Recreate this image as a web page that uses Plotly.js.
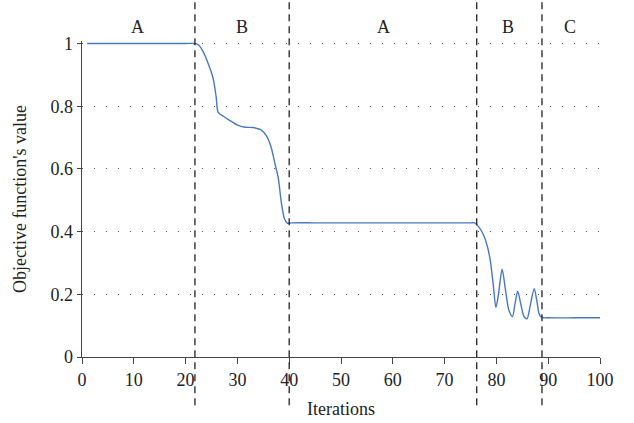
<!DOCTYPE html>
<html><head><meta charset="utf-8">
<script src="https://cdn.plot.ly/plotly-3.0.1.min.js"></script>
<style>html,body{margin:0;padding:0;background:#fff}#c{width:634px;height:423px}</style>
</head><body><div id="c"></div>
<script>
const iterX = [1, 5, 10, 15, 20, 21.8, 22.5, 23.5, 24.5, 25.3, 25.9, 26.3, 27.3, 28.5, 30, 31.5, 33, 34.5, 35.6, 36.5, 37.2, 37.9, 38.5, 39.1, 39.6, 40.5, 45, 50, 60, 70, 75, 75.8, 76.6, 77.5, 78.3, 78.8, 79.4, 79.9, 80.4, 81.1, 81.7, 82.4, 83.1, 83.6, 84.1, 84.7, 85.3, 85.9, 86.6, 87.3, 87.8, 88.3, 88.8, 90, 95, 100];
const objY = [1.0, 1.0, 1.0, 1.0, 1.0, 1.0, 0.995, 0.97, 0.93, 0.89, 0.83, 0.78, 0.768, 0.755, 0.74, 0.733, 0.732, 0.725, 0.705, 0.67, 0.62, 0.57, 0.49, 0.44, 0.427, 0.428, 0.428, 0.428, 0.428, 0.428, 0.428, 0.428, 0.415, 0.39, 0.35, 0.31, 0.23, 0.158, 0.2, 0.28, 0.22, 0.15, 0.129, 0.17, 0.21, 0.17, 0.13, 0.122, 0.17, 0.218, 0.18, 0.135, 0.126, 0.125, 0.125, 0.125];
const phaseBounds = [21.8, 40, 76.2, 88.8];
const phaseLabels = ['A', 'B', 'A', 'B', 'C'];
const phaseLabelX = [10.8, 30.9, 58.3, 82.3, 94.3];
const xTicks = [0, 10, 20, 30, 40, 50, 60, 70, 80, 90, 100];
const yTicks = [0, 0.2, 0.4, 0.6, 0.8, 1];
const yTickText = ['0', '0.2', '0.4', '0.6', '0.8', '1'];

const fontFam = '"Liberation Serif", "DejaVu Serif", serif';
const shapes = phaseBounds.map(b => ({
  type: 'line', xref: 'x', yref: 'paper', x0: b, x1: b, y0: -0.153, y1: 1.14,
  line: {color: '#222', width: 1.3, dash: '7px,5px'}
}));
const annotations = phaseLabels.map((t, i) => ({
  text: t, x: phaseLabelX[i], xref: 'x', y: 1.083, yref: 'paper',
  showarrow: false, font: {family: fontFam, size: 18, color: '#222'}
}));

Plotly.newPlot('c', [{
  x: iterX, y: objY, type: 'scatter', mode: 'lines',
  line: {color: '#4a78bf', width: 1.4, shape: 'spline', smoothing: 0.8},
  hoverinfo: 'none'
}], {
  width: 634, height: 423,
  margin: {l: 82, r: 34, t: 41, b: 66},
  paper_bgcolor: '#fff', plot_bgcolor: '#fff',
  showlegend: false,
  font: {family: fontFam, size: 18, color: '#222'},
  xaxis: {
    range: [0, 100], tickvals: xTicks, ticks: 'outside', ticklen: 6, tickcolor: '#444',
    showline: true, linecolor: '#444', linewidth: 1.3, showgrid: false, zeroline: false,
    tickfont: {family: fontFam, size: 18},
    title: {text: 'Iterations', font: {family: fontFam, size: 18}, standoff: 13}
  },
  yaxis: {
    range: [0, 1.008], tickvals: yTicks, ticktext: yTickText,
    ticks: 'outside', ticklen: 4, tickcolor: '#444',
    showline: true, linecolor: '#444', linewidth: 1.3, zeroline: false,
    showgrid: true, gridcolor: '#555', gridwidth: 1, griddash: '1px,11px',
    tickfont: {family: fontFam, size: 18},
    title: {text: "Objective function's value", font: {family: fontFam, size: 18}, standoff: 19}
  },
  shapes: shapes,
  annotations: annotations
}, {staticPlot: true});
</script></body></html>
